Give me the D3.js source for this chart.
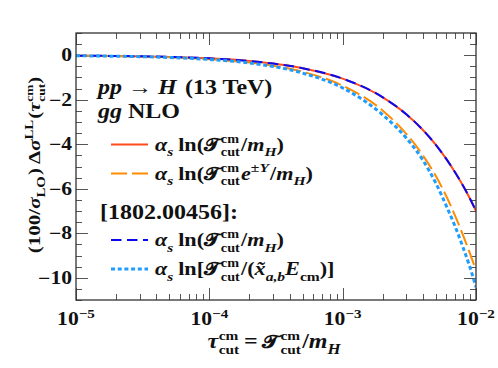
<!DOCTYPE html>
<html>
<head>
<meta charset="utf-8">
<script src="https://cdn.jsdelivr.net/npm/d3@7"></script>
<style>
body { margin: 0; background: #fff; }
svg text { font-family: "Liberation Serif", serif; font-weight: bold; fill: #111; white-space: pre; }
</style>
</head>
<body>
<svg id="chart" width="498" height="368"></svg>
<script>
var tauCut = [1e-5, 2e-5, 5e-5, 1e-4, 2e-4, 5e-4, 1e-3, 2e-3, 3e-3, 4e-3, 5e-3, 6e-3, 7e-3, 8e-3, 9e-3, 1e-2];

// this work
var lnTcutMH = [-0.018, -0.033, -0.075, -0.14, -0.26, -0.58, -1.05, -1.89, -2.65, -3.36, -4.03, -4.67, -5.28, -5.87, -6.44, -7.00];
var lnTcutEY = [-0.022, -0.041, -0.095, -0.18, -0.33, -0.74, -1.37, -2.49, -3.53, -4.50, -5.43, -6.35, -7.24, -8.10, -8.90, -9.66];
// [1802.00456]
var refTcutMH = [-0.018, -0.033, -0.075, -0.14, -0.26, -0.58, -1.05, -1.89, -2.65, -3.36, -4.03, -4.67, -5.28, -5.87, -6.44, -7.00];
var refTcutXE = [-0.023, -0.044, -0.10, -0.19, -0.35, -0.80, -1.47, -2.68, -3.72, -4.72, -5.75, -6.78, -7.72, -8.64, -9.52, -10.42];

var xTicks = [1e-5, 1e-4, 1e-3, 1e-2];
var xTickExp = ["\u22125", "\u22124", "\u22123", "\u22122"];
var yTicks = [0, -2, -4, -6, -8, -10];

var svg = d3.select("#chart");
var x0 = 76, x1 = 476, y0 = 300, y1 = 33;
var sx = 1.2; // widen the narrow serif a bit

var x = d3.scaleLog().domain([1e-5, 1e-2]).range([x0, x1]);
var y = d3.scaleLinear().domain([-11, 1]).range([y0, y1]);

var calT = "\uD835\uDCE3"; // bold script T

// lays out a little formula piece by piece, returns group and width
function mathText(parent, parts, size) {
    var g = parent.append("g");
    var cx = 0;
    parts.forEach(function(p) {
        if (typeof p === "string") p = {t: p};
        if (p.t !== undefined) {
            var el = g.append("text")
                .attr("x", cx).attr("y", 0)
                .style("font-size", (p.fs || 1) * size + "px")
                .style("font-style", p.it ? "italic" : "normal")
                .text(p.t);
            cx += el.node().getComputedTextLength() + (p.sp || 0);
        } else {
            // sup and sub share one text element, stacked with tspans
            var stacked = p.sup && p.sub;
            var el2 = g.append("text").style("font-size", size * (stacked ? 0.64 : 0.7) + "px");
            var w = 0;
            if (p.sup) {
                var t1 = el2.append("tspan")
                    .attr("x", cx).attr("y", -size * (stacked ? 0.42 : 0.4))
                    .style("font-style", p.supIt ? "italic" : "normal")
                    .text(p.sup);
                w = Math.max(w, t1.node().getComputedTextLength());
            }
            if (p.sub) {
                var t2 = el2.append("tspan")
                    .attr("x", cx).attr("y", size * 0.3)
                    .style("font-style", p.subIt ? "italic" : "normal")
                    .text(p.sub);
                w = Math.max(w, t2.node().getComputedTextLength());
            }
            cx += w + (p.sp || 0);
        }
    });
    return {g: g, w: cx * sx};
}
function place(m, px, py) {
    m.g.attr("transform", "translate(" + px + "," + py + ") scale(" + sx + ",1)");
}

// clip
svg.append("clipPath").attr("id", "plotclip")
    .append("rect").attr("x", x0).attr("y", y1).attr("width", x1 - x0).attr("height", y0 - y1);

// ticks
var tickG = svg.append("g").attr("stroke", "#555").attr("stroke-width", 1);
x.ticks().forEach(function(t) {
    var major = Math.abs(Math.log10(t) - Math.round(Math.log10(t))) < 1e-6;
    var len = major ? 12 : 6;
    var px = Math.round(x(t)) + 0.5;
    tickG.append("line").attr("x1", px).attr("x2", px).attr("y1", y0).attr("y2", y0 - len);
    tickG.append("line").attr("x1", px).attr("x2", px).attr("y1", y1).attr("y2", y1 + len);
});
d3.range(-11, 1.001, 0.5).forEach(function(v) {
    var major = Math.abs(v % 2) < 1e-6;
    var len = major ? 12 : 6;
    var py = Math.round(y(v)) + 0.5;
    tickG.append("line").attr("x1", x0).attr("x2", x0 + len).attr("y1", py).attr("y2", py);
    tickG.append("line").attr("x1", x1).attr("x2", x1 - len).attr("y1", py).attr("y2", py);
});

// curves
var line = d3.line()
    .x(function(d) { return x(d[0]); })
    .y(function(d) { return y(d[1]); })
    .curve(d3.curveMonotoneX);

var series = [
    {vals: lnTcutMH, color: "#ff4a1c", width: 2, dash: null},
    {vals: lnTcutEY, color: "#ff8c00", width: 2, dash: "16,5"},
    {vals: refTcutMH, color: "#0a0aee", width: 2, dash: "10.5,5.5"},
    {vals: refTcutXE, color: "#1e9cff", width: 3, dash: "4,2.7"}
];

var plot = svg.append("g").attr("clip-path", "url(#plotclip)");
series.forEach(function(s) {
    plot.append("path")
        .datum(tauCut.map(function(t, i) { return [t, s.vals[i]]; }))
        .attr("d", line)
        .attr("fill", "none")
        .attr("stroke", s.color)
        .attr("stroke-width", s.width)
        .attr("stroke-dasharray", s.dash);
});

// frame
svg.append("rect")
    .attr("x", x0).attr("y", y1).attr("width", x1 - x0).attr("height", y0 - y1)
    .attr("fill", "none").attr("stroke", "#333").attr("stroke-width", 1.3);

// y tick labels
yTicks.forEach(function(v) {
    var m = mathText(svg, [v < 0 ? "\u2212" + (-v) : String(v)], 18);
    place(m, 72 - m.w, y(v) + 6);
});

// x tick labels
xTicks.forEach(function(t, i) {
    var m = mathText(svg, ["10", {sup: xTickExp[i]}], 18);
    place(m, x(t) - m.w / 2, 325);
});

// axis titles
var xt = mathText(svg, [{t: "\u03C4", it: true, sp: 0.5}, {sup: "cm", sub: "cut", sp: 4}, {t: "=", sp: 4},
    {t: calT, fs: 0.9, sp: 1}, {sup: "cm", sub: "cut", sp: 1}, "/", {t: "m", it: true}, {sub: "H", subIt: true}], 20);
place(xt, 274 - xt.w / 2, 348);

var ytG = svg.append("g");
var yt = mathText(ytG, ["(100/", {t: "\u03C3", it: true}, {sub: "LO", sp: 1}, ")", {t: " \u0394"},
    {t: "\u03C3", it: true}, {sup: "LL", sp: 1}, "(", {t: "\u03C4", it: true, sp: 0.5}, {sup: "cm", sub: "cut"}, ")"], 17.5);
ytG.attr("transform", "translate(40," + (165 + yt.w / 2) + ") rotate(-90)");
yt.g.attr("transform", "scale(" + sx + ",1)");

// annotations
var a1 = mathText(svg, [{t: "pp", it: true, sp: 5}, {t: "\u2192", sp: 5}, {t: "H", it: true, sp: 7}, "(13 TeV)"], 20);
place(a1, 98, 94);
var a2 = mathText(svg, [{t: "gg", it: true, sp: 5}, "NLO"], 20);
place(a2, 98, 118);

var ref = mathText(svg, ["[1802.00456]:"], 20);
place(ref, 100, 219);

// legend
var legendItems = [
    {s: series[0], y: 144.5, parts: [{t: "\u03B1", it: true}, {sub: "s", subIt: true, sp: 4}, "ln(", {t: calT, fs: 0.9, sp: 1}, {sup: "cm", sub: "cut", sp: 1}, "/", {t: "m", it: true}, {sub: "H", subIt: true}, ")"]},
    {s: series[1], y: 173.5, parts: [{t: "\u03B1", it: true}, {sub: "s", subIt: true, sp: 4}, "ln(", {t: calT, fs: 0.9, sp: 1}, {sup: "cm", sub: "cut", sp: 1}, {t: "e", it: true}, {sup: "\u00B1Y", supIt: true, sp: 1}, "/", {t: "m", it: true}, {sub: "H", subIt: true}, ")"]},
    {s: series[2], y: 240, parts: [{t: "\u03B1", it: true}, {sub: "s", subIt: true, sp: 4}, "ln(", {t: calT, fs: 0.9, sp: 1}, {sup: "cm", sub: "cut", sp: 1}, "/", {t: "m", it: true}, {sub: "H", subIt: true}, ")"]},
    {s: series[3], y: 269, parts: [{t: "\u03B1", it: true}, {sub: "s", subIt: true, sp: 4}, "ln[", {t: calT, fs: 0.9, sp: 1}, {sup: "cm", sub: "cut", sp: 1}, "/(", {t: "x\u0303", it: true}, {sub: "a,b", subIt: true}, {t: "E", it: true}, {sub: "cm"}, ")]"]}
];
legendItems.forEach(function(d) {
    svg.append("line")
        .attr("x1", 111).attr("x2", 148).attr("y1", d.y).attr("y2", d.y)
        .attr("stroke", d.s.color).attr("stroke-width", d.s.width)
        .attr("stroke-dasharray", d.s.dash);
    var m = mathText(svg, d.parts, 18.5);
    place(m, 155, d.y + 6);
});
</script>
</body>
</html>
